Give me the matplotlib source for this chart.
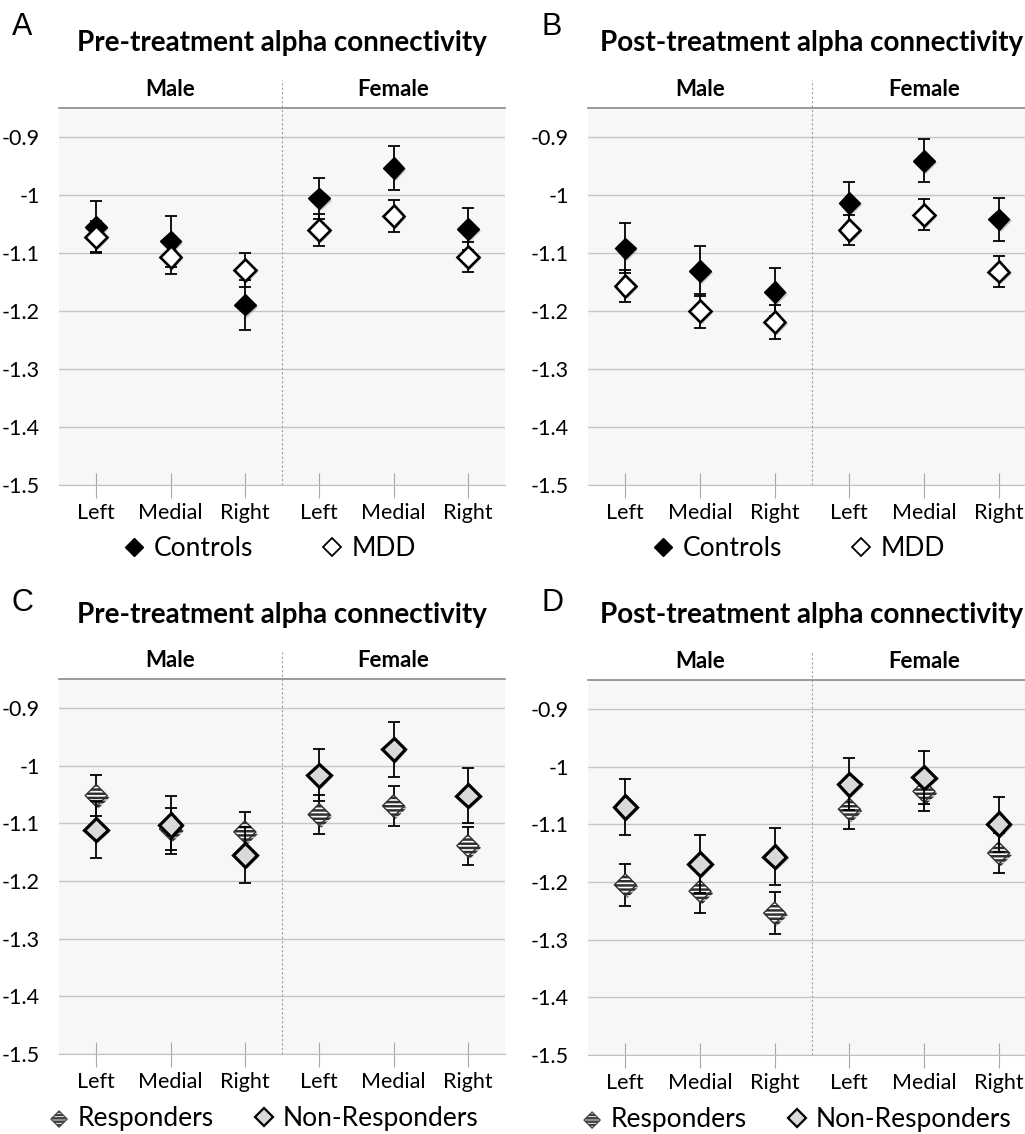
import matplotlib
matplotlib.use('Agg')
import matplotlib.pyplot as plt
import matplotlib.patheffects as pe
from matplotlib.lines import Line2D
from matplotlib.transforms import blended_transform_factory
import numpy as np

plt.rcParams['font.family'] = ['Lato', 'DejaVu Sans']
plt.rcParams['hatch.color'] = '#1a1a1a'
plt.rcParams['hatch.linewidth'] = 1.8

# categories
sides = ['Left', 'Medial', 'Right', 'Left', 'Medial', 'Right']
groups = ['Male', 'Female']
yticks = [-1.5, -1.4, -1.3, -1.2, -1.1, -1.0, -0.9]
ytick_labels = ['-1.5', '-1.4', '-1.3', '-1.2', '-1.1', '-1', '-0.9']

# panel A: pre-treatment, controls vs MDD
ctrl_pre = [-1.055, -1.080, -1.189, -1.006, -0.953, -1.059]
ctrl_pre_err = [0.044, 0.044, 0.043, 0.036, 0.038, 0.036]
mdd_pre = [-1.072, -1.107, -1.129, -1.060, -1.036, -1.107]
mdd_pre_err = [0.028, 0.029, 0.029, 0.028, 0.027, 0.026]

# panel B: post-treatment, controls vs MDD
ctrl_post = [-1.092, -1.131, -1.167, -1.014, -0.941, -1.042]
ctrl_post_err = [0.043, 0.043, 0.042, 0.037, 0.037, 0.037]
mdd_post = [-1.157, -1.200, -1.219, -1.060, -1.034, -1.132]
mdd_post_err = [0.028, 0.029, 0.030, 0.026, 0.027, 0.026]

# panel C: pre-treatment, responders vs non-responders
resp_pre = [-1.052, -1.110, -1.115, -1.085, -1.070, -1.139]
resp_pre_err = [0.035, 0.037, 0.035, 0.034, 0.034, 0.033]
nonresp_pre = [-1.111, -1.103, -1.155, -1.017, -0.972, -1.052]
nonresp_pre_err = [0.049, 0.051, 0.048, 0.045, 0.047, 0.047]

# panel D: post-treatment, responders vs non-responders
resp_post = [-1.205, -1.216, -1.254, -1.074, -1.043, -1.150]
resp_post_err = [0.036, 0.038, 0.037, 0.034, 0.034, 0.034]
nonresp_post = [-1.070, -1.169, -1.156, -1.031, -1.019, -1.100]
nonresp_post_err = [0.049, 0.050, 0.049, 0.045, 0.046, 0.048]

W, H = 1025, 1134
fig = plt.figure(figsize=(W / 100, H / 100), dpi=100)

shadow = [pe.SimplePatchShadow(offset=(1.5, -1.5), shadow_rgbFace='black', alpha=0.2),
          pe.Normal()]


def make_axes(left, right, top, bottom):
    return fig.add_axes([left / W, 1 - bottom / H, (right - left) / W, (bottom - top) / H])


def setup(ax, title):
    x = np.arange(len(sides))
    ax.set_facecolor('#f7f7f7')
    ax.set_xlim(-0.5, 5.5)
    ax.set_ylim(-1.5, -0.85)
    ax.set_yticks(yticks)
    ax.set_yticklabels(ytick_labels, fontsize=15.5)
    ax.set_xticks(x)
    ax.set_xticklabels(sides, fontsize=15.5)
    ax.yaxis.grid(True, color='#c6c6c6', lw=1)
    ax.set_axisbelow(True)
    for s in ['left', 'right']:
        ax.spines[s].set_visible(False)
    ax.spines['top'].set_color('#8a8a8a')
    ax.spines['top'].set_linewidth(1.2)
    ax.spines['bottom'].set_color('#c0c0c0')
    ax.tick_params(axis='y', length=0, pad=14)
    ax.tick_params(axis='x', direction='inout', length=18, color='#a8a8a8', pad=4)
    tr = blended_transform_factory(ax.transData, ax.transAxes)
    ax.plot([2.5, 2.5], [0, 1.075], transform=tr, clip_on=False,
            color='#a0a0a0', lw=0.8, ls=(0, (2, 2)), zorder=1)
    ax.text(1, 1.05, groups[0], transform=tr, ha='center', va='center',
            fontsize=16, fontweight='bold')
    ax.text(4, 1.05, groups[1], transform=tr, ha='center', va='center',
            fontsize=16, fontweight='bold')
    ax.text(0.5, 1.172, title, transform=ax.transAxes, ha='center', va='center',
            fontsize=20, fontweight='bold')
    return x


# panels A and B
for pos, letter, title, c, ce, m, me, lx in [
        ((59, 505, 108, 485), 'A', 'Pre-treatment alpha connectivity',
         ctrl_pre, ctrl_pre_err, mdd_pre, mdd_pre_err, 0.469),
        ((588, 1036, 108, 485), 'B', 'Post-treatment alpha connectivity',
         ctrl_post, ctrl_post_err, mdd_post, mdd_post_err, 0.467)]:
    ax = make_axes(*pos)
    x = setup(ax, title)
    ax.errorbar(x, c, yerr=ce, fmt='none', ecolor='black', elinewidth=1.3,
                capsize=4, capthick=1.3, zorder=3)
    ax.plot(x, c, ls='none', marker='D', ms=11, mfc='black', mec='black',
            mew=1, zorder=4, path_effects=shadow)
    ax.errorbar(x, m, yerr=me, fmt='none', ecolor='black', elinewidth=1.3,
                capsize=4, capthick=1.3, zorder=5)
    ax.plot(x, m, ls='none', marker='D', ms=11, mfc='white', mec='black',
            mew=1.9, zorder=6, path_effects=shadow)
    h1 = Line2D([], [], ls='none', marker='D', ms=9, mfc='black', mec='black')
    h2 = Line2D([], [], ls='none', marker='D', ms=9, mfc='white', mec='black', mew=1.3)
    ax.legend([h1, h2], ['Controls', 'MDD'], loc='center',
              bbox_to_anchor=(lx, -0.168), ncol=2, frameon=False, fontsize=19,
              handletextpad=0.25, columnspacing=2.5, handlelength=1.0)
    fig.text((pos[0] - 37 if letter == 'A' else pos[0] - 36) / W, 1 - 27 / H,
             letter, fontsize=22, ha='center', va='center',
             family=['Liberation Sans', 'DejaVu Sans'])

# panels C and D
for pos, letter, title, r, re_, n, ne, lx in [
        ((59, 505, 679, 1054), 'C', 'Pre-treatment alpha connectivity',
         resp_pre, resp_pre_err, nonresp_pre, nonresp_pre_err, 0.455),
        ((588, 1036, 680, 1055), 'D', 'Post-treatment alpha connectivity',
         resp_post, resp_post_err, nonresp_post, nonresp_post_err, 0.462)]:
    ax = make_axes(*pos)
    x = setup(ax, title)
    ax.errorbar(x, r, yerr=re_, fmt='none', ecolor='black', elinewidth=1.3,
                capsize=4, capthick=1.3, zorder=3)
    ax.scatter(x, r, marker='D', s=125, facecolor='white', edgecolor='#303030',
               hatch='----', linewidths=1.0, zorder=4, path_effects=shadow)
    ax.errorbar(x, n, yerr=ne, fmt='none', ecolor='black', elinewidth=1.3,
                capsize=4, capthick=1.3, zorder=5)
    ax.plot(x, n, ls='none', marker='D', ms=12, mfc='#d9d9d9', mec='black',
            mew=2.3, zorder=6, path_effects=shadow)
    h1 = ax.scatter([], [], marker='D', s=70, facecolor='white', edgecolor='#404040',
                    hatch='-----', linewidths=0.8)
    h2 = Line2D([], [], ls='none', marker='D', ms=9, mfc='#d9d9d9', mec='black', mew=1.6)
    ax.legend([h1, h2], ['Responders', 'Non-Responders'], loc='center',
              bbox_to_anchor=(lx, -0.172), ncol=2, frameon=False, fontsize=19,
              handletextpad=0.2, columnspacing=1.4, handlelength=1.0,
              scatterpoints=1)
    fig.text((pos[0] - 37 if letter == 'C' else pos[0] - 36) / W, 1 - 603 / H,
             letter, fontsize=22, ha='center', va='center',
             family=['Liberation Sans', 'DejaVu Sans'])

fig.savefig('out.png', dpi=100)
